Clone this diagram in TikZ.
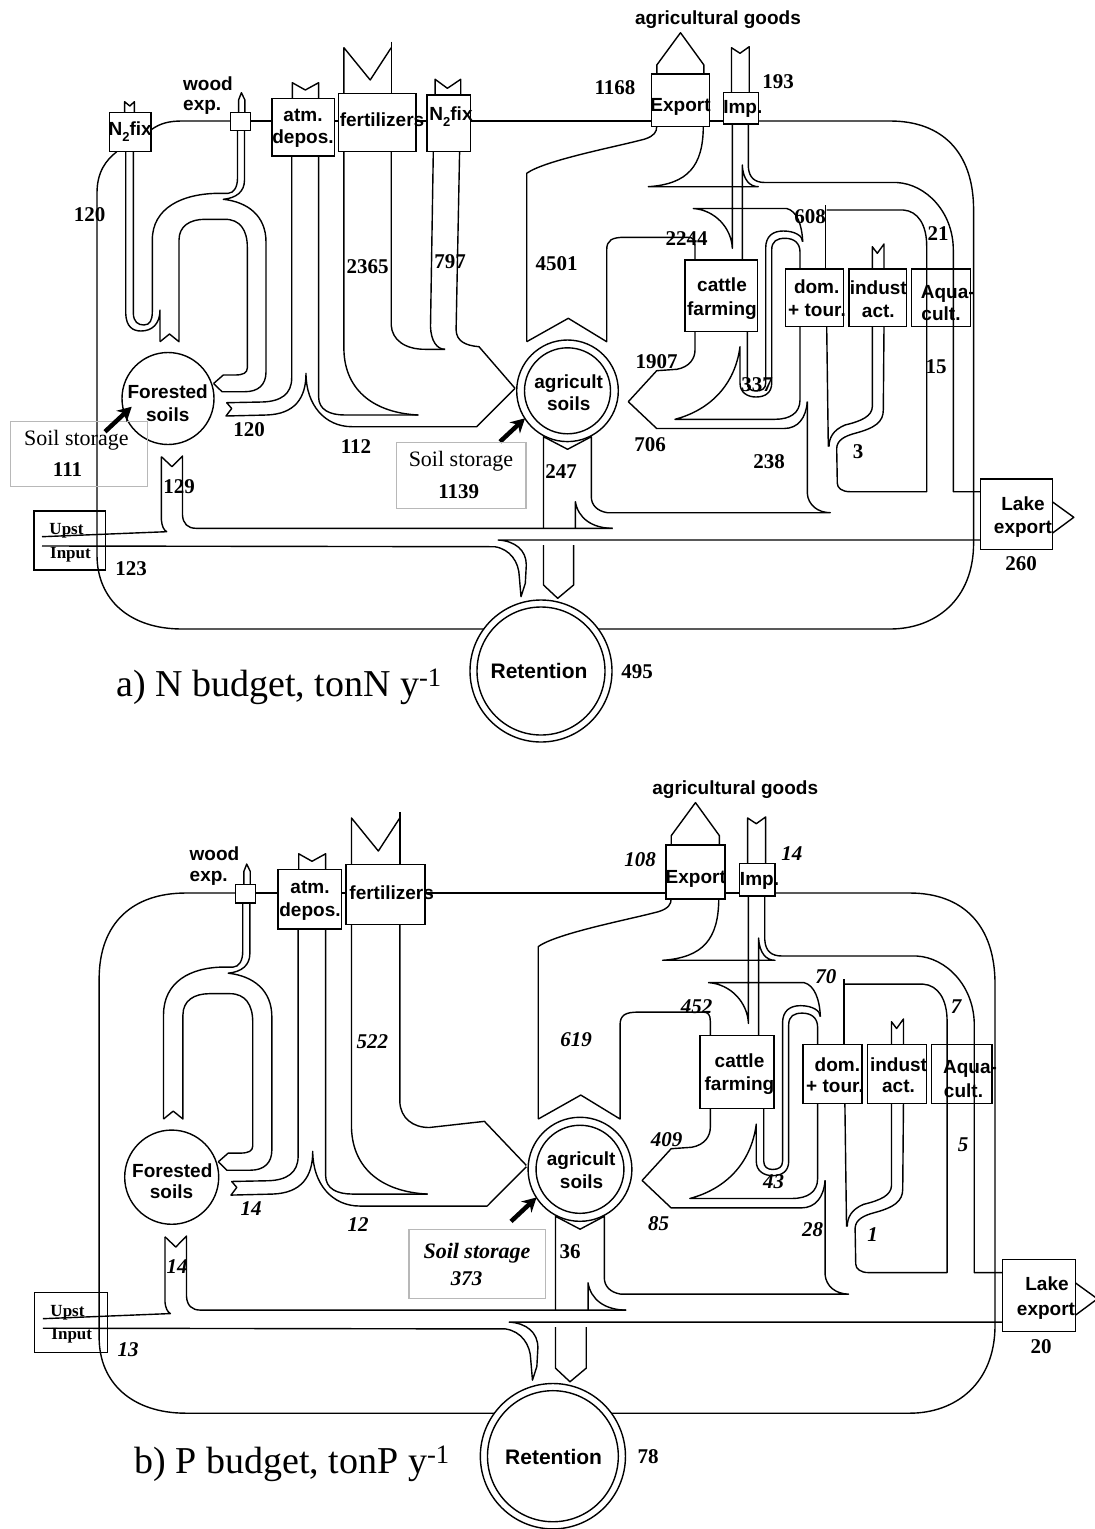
\documentclass[tikz,border=0pt]{standalone}
\usepackage{fontspec}
\setmainfont{Liberation Serif}
\newfontfamily\lsans{Liberation Sans}
\usetikzlibrary{arrows.meta}
\tikzset{
  fl/.style={line width=1.4pt, line join=round},
  bx/.style={line width=1.4pt},
  sl/.style={font=\lsans\bfseries\fontsize{19}{19}\selectfont, inner sep=0pt, anchor=base},
  rl/.style={font=\lsans\bfseries\fontsize{21}{21}\selectfont, inner sep=0pt, anchor=base},
  nb/.style={font=\bfseries\fontsize{21}{21}\selectfont, inner sep=0pt, anchor=base},
  ni/.style={font=\bfseries\itshape\fontsize{21}{21}\selectfont, inner sep=0pt, anchor=base},
  up/.style={font=\bfseries\fontsize{17}{17}\selectfont, inner sep=0pt, anchor=base},
  ssbox/.style={draw=black!28, line width=1.5pt},
  ssl/.style={font=\fontsize{22}{22}\selectfont, inner sep=0pt, anchor=base},
  bigarrow/.style={line width=4.5pt, -{Stealth[length=14pt,width=15pt]}},
  ttl/.style={font=\fontsize{38}{38}\selectfont, inner sep=0pt, anchor=base west},
}
\newcommand{\Nsub}{N\raisebox{-0.3em}{\fontsize{13}{13}\selectfont 2}fix}

\newcommand{\flowcommon}{%
 \draw[fl] (250.2,121)--(272,121);
 \draw[fl] (334.4,121)--(338.6,121);
 \draw[fl] (709.2,121)--(723.4,121);
 \draw[fl] (758.4,121)--(890,121) .. controls (942,121) and (973.6,152) .. (973.6,210) -- (973.6,543) .. controls (973.6,600) and (935,629) .. (890,629) -- (598,629);
 \draw[fl] (484,629) -- (182,629) .. controls (130,629) and (97,600) .. (97,555) -- (97,205);
 % boxes
 \draw[bx] (230.5,112.7) rectangle (250.2,130.7);
 \draw[bx] (272,98.3) rectangle (334.4,156);
 \draw[bx] (338.6,93.3) rectangle (415.8,151.7);
 \draw[bx] (651.5,74) rectangle (709.2,126.7);
 \draw[bx] (723.4,92.3) rectangle (758.4,124);
 \draw[bx] (685,260) rectangle (757.3,331.7);
 \draw[bx] (785.7,269) rectangle (843.3,326.7);
 \draw[bx] (849,269) rectangle (906.7,326.7);
 \draw[bx] (911.7,269) rectangle (970.7,326.7);
 \draw[bx] (980.7,479) rectangle (1052.2,549.3);
 \draw[bx] (34,511) rectangle (105.3,570);
 % arrow heads and tails at the border
 \draw[fl] (238.6,112.7) -- (238.6,100) -- (241.4,92.7) -- (244.9,100) -- (244.9,112.7);
 \draw[fl] (292.3,98.3) -- (292.3,82.7) -- (305.3,90) -- (318.6,82.7) -- (318.6,98.3);
 \draw[fl] (343.9,93.3) -- (343.9,47.7) -- (370.2,80) -- (391.2,47.7);
 \draw[fl] (391.2,41.7) -- (391.2,93.3);
 \draw[fl] (656.8,74) -- (656.8,65) -- (680.5,32.7) -- (703.9,65) -- (703.9,74);
 \draw[fl] (731.5,92.3) -- (731.5,47.7) -- (740,53.3) -- (749.2,46.7) -- (749.2,92.3);
 \draw[fl] (872.3,269) -- (872.3,246.7) -- (877.3,253.3) -- (884,244) -- (884,269);
 \draw[fl] (1052.2,501.7) -- (1073.8,517.3) -- (1052.2,533.3);
 % circles
 \draw[bx] (168,398.5) circle[radius=46];
 \draw[bx] (567.5,390.8) circle[radius=50.8];
 \draw[bx] (567.5,390.8) circle[radius=43];
 \draw[bx] (541,671) circle[radius=71];
 \draw[bx] (541,671) circle[radius=64];
 % forest loop: inner and right leg
 \draw[fl] (160,341.7) -- (169.5,334) -- (179,341.7) -- (179,240) .. controls (179,226) and (190,219.3) .. (205,219.3) -- (225,219.3) .. controls (240,219.3) and (247.3,230) .. (247.3,247) -- (247.3,368) .. controls (247.3,373) and (243,375) .. (235,375) -- (223.3,375) -- (213.6,383.5);
 \draw[fl] (244.5,130.7) -- (244.5,180) .. controls (244.5,192) and (236,198) .. (223.3,199.3) .. controls (248,202) and (266,216) .. (266,242) -- (266,372) .. controls (266,385) and (258,391.7) .. (245,391.7) -- (222,391.7) -- (213.6,383.5);
 % atm deposition and fertilizer
 \draw[fl] (291.7,156) -- (291.7,378) .. controls (291.7,394) and (281,401.5) .. (262,402) -- (226.7,402.7) -- (231.7,408.5) -- (226,416) -- (266.7,415) .. controls (295,414) and (306,398) .. (306,373.3) .. controls (306,405) and (325,426.7) .. (352,426.7) -- (476.7,426.7) -- (515,388.3);
 \draw[fl] (318.6,156) -- (318.6,396.7) .. controls (318.6,410) and (330,415) .. (345,415) -- (418.3,415);
 \draw[fl] (343.9,151.7) -- (343.9,350) .. controls (345,392) and (376,413) .. (418.3,415);
 % 4501 to export and cattle
 \draw[fl] (526.7,341.7) -- (526.7,173.3) .. controls (545,160) and (620,146) .. (645,139) .. controls (654,136) and (656.7,132) .. (656.7,126.7);
 \draw[fl] (526.7,341.7) -- (568.3,318.3) -- (606.7,341.7) -- (606.7,250) .. controls (606.7,240) and (612,237.3) .. (625,237.3) -- (688,237.3) .. controls (693,237.3) and (695,240) .. (695,246) -- (695,260);
 \draw[fl] (703.3,126.7) .. controls (703,166) and (688,184) .. (648.3,186.7) -- (758.3,186.7) .. controls (750,186.7) and (743,180) .. (742.3,165) -- (742.3,260);
 % import
 \draw[fl] (732.3,124) -- (732.3,248.3) .. controls (731.5,228) and (715,210) .. (693.3,208.5) -- (786.7,208.5) .. controls (797,211) and (802,225) .. (802.7,241.7);
 \draw[fl] (748.3,124) -- (748.3,166.7) .. controls (749,178) and (755,182.5) .. (765,182.5) -- (896.7,182.5) .. controls (926,184) and (953.3,212) .. (953.3,250) -- (953.3,491.7) -- (980.7,491.7);
 % 608, 21, 15, 3
 \draw[fl] (825.7,205) -- (825.7,269);
 \draw[fl] (826.7,210) -- (903.3,210) .. controls (918,211) and (926.7,225) .. (926.7,246) -- (926.7,491.7) -- (850,491.7) .. controls (842,491.7) and (837.3,488) .. (837.3,483.3) -- (836.7,448.3) .. controls (837,440) and (845,436) .. (855,433.3) .. controls (875,428) and (883.3,422) .. (883.3,410) -- (884,326.7);
 \draw[fl] (872.3,326.7) -- (872.3,406.7) .. controls (872,416) and (862,421) .. (845,425) .. controls (833,430) and (829,438) .. (829,446.7);
 \draw[fl] (826.7,326.7) -- (828.3,446.7);
 % dom, 706 top, 337 loop
 \draw[fl] (800,326.7) -- (800,400) .. controls (800,413) and (790,419.3) .. (775,419.3) -- (675,419.3) .. controls (710,410) and (735,385) .. (740,346.7) -- (740,383) .. controls (740,393) and (748,397) .. (756,397) .. controls (766,397) and (771.7,392) .. (771.7,383) -- (771.7,250) .. controls (771.7,241) and (777,238.3) .. (785,238.3) .. controls (794,238.3) and (800,243) .. (800,252) -- (800,269);
 \draw[fl] (747.3,331.7) -- (747.3,383) .. controls (747.3,388.5) and (751,391) .. (756,391) .. controls (762,391) and (765.7,388.5) .. (765.7,383) -- (765.7,248) .. controls (765.7,236) and (773,231) .. (783.3,231) .. controls (795,231) and (802.7,236) .. (802.7,241.7);
 % 706 bottom and 1907
 \draw[fl] (807.3,401.7) .. controls (806,418) and (798,428.5) .. (784,428.5) -- (656.7,428.5) -- (628.3,401.7) -- (656.7,370.7) -- (676.7,369.3) .. controls (690,367) and (695,358) .. (695,350) -- (695,331.7);
 % 238 and 247
 \draw[fl] (807.3,401.7) -- (807.3,493.3) .. controls (808,505) and (818,512.7) .. (830.3,512.7) -- (607.3,512.7) .. controls (597,511) and (591.3,505) .. (591.3,496.7) -- (591.3,436.7) -- (567.6,449.3) -- (543.5,436.7) -- (543.5,528.3);
 \draw[fl] (575.4,528.3) -- (575.4,501.7) .. controls (578,518) and (592,528.3) .. (612.6,528.3);
 % river
 \draw[fl] (161.4,456.7) -- (161.4,520) .. controls (162,527) and (164,530) .. (166.7,531.7) -- (42,536.7);
 \draw[fl] (161.4,456.7) -- (172,466.7) -- (182.5,456) -- (182.5,515) .. controls (183,524) and (188,528.3) .. (196,528.3) -- (612.6,528.3);
 \draw[fl] (42,546) -- (494.7,546.7) .. controls (510,549) and (519,562) .. (519.3,576.7) -- (521,596.7) -- (525.3,583.3) -- (526.3,565) .. controls (526.3,550) and (515,541) .. (498.2,540) -- (980.7,540);
 \draw[fl] (543.5,545) -- (543.5,585) -- (557.7,598.3) -- (573.6,585) -- (573.6,545);
 % storage arrow
 \draw[bigarrow] (500,441.7) -- (525,418.3);
}

\newcommand{\flowaonly}{%
 \draw[fl] (97,205) -- (97,193) .. controls (97,172) and (106,160) .. (116.8,151.7);
 \draw[fl] (150.9,130) .. controls (160,123) and (170,121) .. (182,121) -- (230.5,121);
 \draw[fl] (415.8,121)--(427,121);
 \draw[fl] (470.2,121)--(651.5,121);
 \draw[bx] (109.5,112.7) rectangle (150.9,151.7);
 \draw[bx] (427,95) rectangle (470.2,151.7);
 \draw[fl] (124.6,112.7) -- (124.6,101.7) -- (129.8,106) -- (134.4,101.7) -- (134.4,112.7);
 \draw[fl] (435.1,95) -- (435.1,79.3) -- (447.4,88.3) -- (460.7,79.3) -- (460.7,95);
 \draw[fl] (133.3,151.7) -- (133.3,313) .. controls (133.5,322) and (138,325) .. (144,325) .. controls (150,325) and (152.3,320) .. (152.3,311.7) -- (152.3,240) .. controls (152.3,208) and (182,193.3) .. (220,193.3) -- (228.3,193.3) .. controls (234,193) and (237.5,187) .. (237.5,178) -- (237.5,130.7);
 \draw[fl] (125.7,151.7) -- (125.7,313) .. controls (126,327) and (133,331) .. (141,331) .. controls (152,331) and (160,324) .. (160,310) -- (160,341.7);
 \draw[fl] (391.2,151.7) -- (391.2,325) .. controls (392,340) and (405,349.3) .. (425,349.3) -- (445,349.3);
 \draw[fl] (433.3,151.7) -- (430.5,326.7) .. controls (431,341) and (437,349.3) .. (445,349.3);
 \draw[fl] (459.6,151.7) -- (456.1,330) .. controls (456.5,341) and (465,345.5) .. (479,346.7) -- (515,388.3);
 \draw[ssbox] (10.5,421.7) rectangle (147.4,486.7);
 \draw[bigarrow] (105,431.7) -- (131.7,406.7);
}

\newcommand{\flowbonly}{%
 \draw[fl] (97,205) .. controls (97,150) and (130,121) .. (182,121) -- (230.5,121);
 \draw[fl] (415.8,121)--(651.5,121);
 \draw[fl] (160,341.7) -- (160,240) .. controls (160,208) and (186,193.3) .. (220,193.3) -- (228.3,193.3) .. controls (234,193) and (237.5,187) .. (237.5,178) -- (237.5,130.7);
 \draw[fl] (391.2,151.7) -- (391.2,325) .. controls (392,341) and (404,350) .. (420,350) -- (474,344) -- (515,387);
}

\begin{document}
\begin{tikzpicture}[x=1pt,y=-1pt]
\fill[white] (0,0) rectangle (1095,1529);
\useasboundingbox (0,0) rectangle (1095,1529);

% ---------------- panel a ----------------
\flowcommon
\flowaonly
\node[sl] (aN2l) at (130.2,135.4) {\Nsub};
\node[sl] (aN2m) at (451,120.4) {\Nsub};
\node[sl,anchor=base west] (awood) at (183,90) {wood};
\node[sl,anchor=base west] (aexp) at (183,110) {exp.};
\node[sl] (aatm) at (303,121.7) {atm.};
\node[sl] (adep) at (303,143.5) {depos.};
\node[sl] (afert) at (382,126.7) {fertilizers};
\node[sl] (aexpo) at (680.5,111.5) {Export};
\node[sl] (aimp) at (742.8,113) {Imp.};
\node[sl] (agoods) at (718,24.5) {agricultural goods};
\node[sl] (acat1) at (722,291.8) {cattle};
\node[sl] (acat2) at (722,315.2) {farming};
\node[sl] (adom1) at (816.7,293.5) {dom.};
\node[sl] (adom2) at (817,316.8) {+ tour.};
\node[sl] (aind1) at (878.3,294) {indust};
\node[sl] (aind2) at (878.3,317) {act.};
\node[sl] (aaq1) at (947.8,298.5) {Aqua-};
\node[sl] (aaq2) at (941,320) {cult.};
\node[sl] (afor1) at (167.7,398.5) {Forested};
\node[sl] (afor2) at (167.7,421.8) {soils};
\node[sl] (aag1) at (568.7,388.5) {agricult};
\node[sl] (aag2) at (568.7,410.2) {soils};
\node[rl] (aret) at (539,678.3) {Retention};
\node[sl] (alake1) at (1023,510.2) {Lake};
\node[sl] (alake2) at (1023,533.5) {export};
\node[up] (aupst) at (66.5,534.6) {Upst};
\node[up] (ainp) at (70.5,558) {Input};
\node[nb] (a120a) at (89.5,221.5) {120};
\node[nb] (a2365) at (367.5,273) {2365};
\node[nb] (a797) at (450,268.3) {797};
\node[nb] (a4501) at (556.7,270) {4501};
\node[nb] (a1168) at (615,94) {1168};
\node[nb] (a193) at (778,88.3) {193};
\node[nb] (a2244) at (686.7,245) {2244};
\node[nb] (a608) at (810,223) {608};
\node[nb] (a21) at (938,240) {21};
\node[nb] (a15) at (936,373) {15};
\node[nb] (a1907) at (656.7,368.3) {1907};
\node[nb] (a337) at (757,391) {337};
\node[nb] (a706) at (650,451.7) {706};
\node[nb] (a238) at (769,468.3) {238};
\node[nb] (a3) at (858,458) {3};
\node[nb] (a120b) at (249,436.7) {120};
\node[nb] (a112) at (356,453.3) {112};
\node[nb] (a247) at (561,478.3) {247};
\node[nb] (a129) at (179,493.3) {129};
\node[nb] (a123) at (131,575) {123};
\node[nb] (a260) at (1021,570) {260};
\node[nb] (a495) at (637,678.3) {495};
\node[ssl] (ass1) at (76.3,445.5) {Soil storage};
\node[nb] (ass1n) at (67.5,476.7) {111};
\draw[ssbox] (396.7,442.3) rectangle (526,508.3);
\node[ssl] (ass2) at (461,466) {Soil storage};
\node[nb] (ass2n) at (458.7,498.3) {1139};
\node[ttl] (atitle) at (116,696) {a) N budget, tonN y\textsuperscript{-1}};

% ---------------- panel b ----------------
\begin{scope}[yshift=-769.1pt, xscale=1.022, yscale=1.024]
\flowcommon
\flowbonly
\end{scope}
\node[sl,anchor=base west] (bwood) at (189.5,860.7) {wood};
\node[sl,anchor=base west] (bexp) at (189.5,881.5) {exp.};
\node[sl] (batm) at (310,893.3) {atm.};
\node[sl] (bdep) at (310,916) {depos.};
\node[sl] (bfert) at (391.7,899.5) {fertilizers};
\node[sl] (bexpo) at (695.8,883.5) {Export};
\node[sl] (bimp) at (759.5,885) {Imp.};
\node[sl] (bgoods) at (735.2,794) {agricultural goods};
\node[sl] (bcat1) at (739.5,1067) {cattle};
\node[sl] (bcat2) at (739.5,1090.4) {farming};
\node[sl] (bdom1) at (837.4,1071) {dom.};
\node[sl] (bdom2) at (835,1092) {+ tour.};
\node[sl] (bind1) at (898.5,1071) {indust};
\node[sl] (bind2) at (898.5,1092) {act.};
\node[sl] (baq1) at (970,1073.7) {Aqua-};
\node[sl] (baq2) at (963.5,1097) {cult.};
\node[sl] (bfor1) at (172.3,1177) {Forested};
\node[sl] (bfor2) at (171.5,1198.7) {soils};
\node[sl] (bag1) at (581.2,1165.4) {agricult};
\node[sl] (bag2) at (581.6,1188.7) {soils};
\node[rl] (bret) at (553.6,1464) {Retention};
\node[sl] (blake1) at (1047,1290.4) {Lake};
\node[sl] (blake2) at (1046,1315.4) {export};
\node[up] (bupst) at (67.5,1316.3) {Upst};
\node[up] (binp) at (71.8,1339.6) {Input};
\node[ni] (b522) at (372.4,1048.3) {522};
\node[ni] (b108) at (640,866.7) {108};
\node[ni] (b14a) at (791.8,860) {14};
\node[ni] (b70) at (825.8,983.3) {70};
\node[ni] (b7) at (956,1013.3) {7};
\node[ni] (b452) at (696.6,1013.3) {452};
\node[ni] (b619) at (576,1046.7) {619};
\node[ni] (b409) at (666.5,1146.7) {409};
\node[ni] (b5) at (963,1151.7) {5};
\node[ni] (b14b) at (251,1215) {14};
\node[ni] (b12) at (358,1231.7) {12};
\node[ni] (b14c) at (177,1273.3) {14};
\node[ni] (b13) at (128,1356.7) {13};
\node[ni] (b43) at (773.6,1188.3) {43};
\node[ni] (b85) at (658.6,1230) {85};
\node[ni] (b28) at (812.6,1236.7) {28};
\node[ni] (b1) at (872.7,1241.7) {1};
\node[nb] (b36) at (570,1258.3) {36};
\node[nb] (b20) at (1041,1353.3) {20};
\node[nb] (b78) at (648,1463.3) {78};
\draw[ssbox] (408.8,1229.3) rectangle (545.6,1298.3);
\node[ssl,font=\bfseries\itshape\fontsize{22}{22}\selectfont] (bss) at (477,1258) {Soil storage};
\node[ni] (bssn) at (466.7,1285.5) {373};
\node[ttl] (btitle) at (134.4,1473) {b) P budget, tonP y\textsuperscript{-1}};
\end{tikzpicture}
\end{document}
